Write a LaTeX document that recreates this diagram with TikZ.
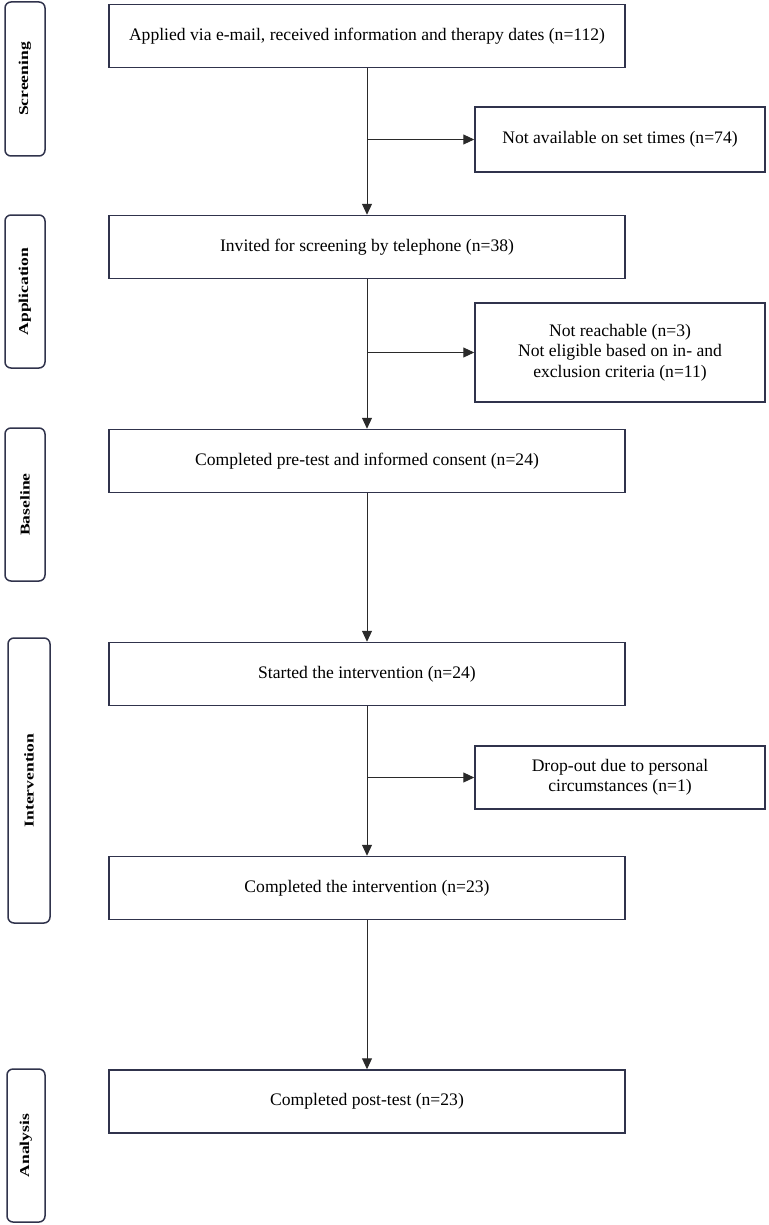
\documentclass[tikz,border=0pt]{standalone}
\usepackage{fontspec,graphicx}
\setmainfont{Liberation Serif}
\usetikzlibrary{positioning,calc,arrows.meta}
\definecolor{flowBoxLine}{HTML}{30334C}
\definecolor{flowArrowLine}{HTML}{2A2A2A}
\newcommand{\phaselabel}[1]{\scalebox{1.3}[1]{\bfseries #1}}
\tikzset{
  flow arrow/.style={
    -{Triangle[length=11pt, width=10pt]},
    line width=1pt, color=flowArrowLine,
  },
  stage box/.style={
    rectangle, draw=flowBoxLine, line width=1.5pt,
    minimum width=516pt, minimum height=63pt, inner sep=0pt,
    font=\fontsize{17.6}{20.5}\selectfont, align=center,
  },
  exit box/.style={
    stage box, minimum width=290pt,
  },
  phase box/.style={
    rectangle, rounded corners=6pt, draw=flowBoxLine, line width=1.5pt,
    inner sep=0pt, rotate=90,
    font=\fontsize{13.5}{15}\selectfont,
  },
}

\begin{document}
\begin{tikzpicture}[x=1pt, y=-1pt]
\useasboundingbox (0,0) rectangle (768,1225);

% --- PHASES (index/x/y/length/width/name) ---
\def\phases{%
  1/25/79/154/40/Screening,%
  2/25/291.5/153/40/Application,%
  3/25/504.5/153/40/Baseline,%
  4/29/780.5/285/42/Intervention,%
  5/26/1145.5/153/38/Analysis%
}
\foreach \pidx/\px/\py/\plen/\pwd/\name in \phases {
  \node[phase box, minimum width=\plen pt, minimum height=\pwd pt]
    (p\pidx) at (\px,\py) {\phaselabel{\name}};
}

% --- MAIN STAGES ---
\def\stages{%
  1/36/{Applied via e-mail, received information and therapy dates (n=112)},%
  2/247/{Invited for screening by telephone (n=38)},%
  3/461/{Completed pre-test and informed consent (n=24)},%
  4/674/{Started the intervention (n=24)},%
  5/888/{Completed the intervention (n=23)},%
  6/1101.5/{Completed post-test (n=23)}%
}
\foreach \sidx/\cy/\name in \stages {
  \node[stage box] (s\sidx) at (367,\cy) {\name};
}

% --- EXCLUSIONS (named after the stage they leave) ---
\def\exits{%
  1/139.5/65/{Not available on set times (n=74)},%
  2/352.5/99/{Not reachable (n=3)\\Not eligible based on in- and\\exclusion criteria (n=11)},%
  4/777.5/63/{Drop-out due to personal\\circumstances (n=1)}%
}
\foreach \xidx/\cy/\xh/\name in \exits {
  \node[exit box, minimum height=\xh pt] (x\xidx) at (620,\cy) {\name};
}

% --- ARROWS ---
\def\arrowpairs{1/2, 2/3, 3/4, 4/5, 5/6}
\foreach \a/\b in \arrowpairs {
  \draw[flow arrow] (s\a.south) -- (s\b.north);
}
\foreach \a in {1,2,4} {
  \draw[flow arrow] (s\a.south |- x\a.west) -- (x\a.west);
}

\end{tikzpicture}
\end{document}
